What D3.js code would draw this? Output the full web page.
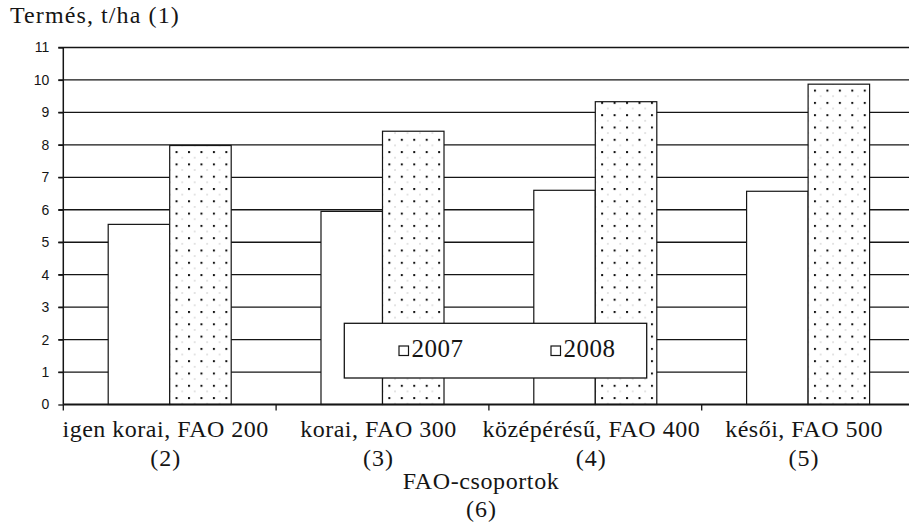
<!DOCTYPE html>
<html>
<head>
<meta charset="utf-8">
<script src="https://cdn.jsdelivr.net/npm/d3@7"></script>
<style>
  html, body { margin: 0; padding: 0; background: #fff; }
  svg { display: block; }
</style>
</head>
<body>
<svg id="chart" width="909" height="524"></svg>
<script>
// ---- data ----
const categories = ["igen korai, FAO 200", "korai, FAO 300", "középérésű, FAO 400", "késői, FAO 500"];
const categoryNotes = ["(2)", "(3)", "(4)", "(5)"];
const seriesNames = ["2007", "2008"];
const values2007 = [5.55, 5.95, 6.6, 6.57];
const values2008 = [7.98, 8.42, 9.33, 9.87];
const yTicks = [0, 1, 2, 3, 4, 5, 6, 7, 8, 9, 10, 11];
const yTitle = "Termés, t/ha (1)";
const xTitle = "FAO-csoportok";
const xTitleNote = "(6)";

// ---- layout ----
const svg = d3.select("#chart");
const mLeft = 63.3, mRight = 914.5, mTop = 47.5, mBottom = 404.5;
const serif = "'Liberation Serif', 'Times New Roman', serif";
const ink = "#151515";

const x = d3.scaleBand().domain(categories).range([mLeft, mRight]).padding(0);
const xs = d3.scaleBand().domain(seriesNames).range([0, x.bandwidth()]).paddingInner(0).paddingOuter(0.73);
const y = d3.scaleLinear().domain([0, 11]).range([mBottom, mTop]);

// dot pattern
const defs = svg.append("defs");
const pat = defs.append("pattern")
  .attr("id", "dots")
  .attr("patternUnits", "userSpaceOnUse")
  .attr("width", 12.45).attr("height", 12.3)
  .attr("x", 174.5).attr("y", 3.5);
pat.append("rect").attr("width", 12.45).attr("height", 12.3).attr("fill", "#fff");
pat.append("rect").attr("x", 0).attr("y", 0).attr("width", 2).attr("height", 2).attr("fill", "#111");
pat.append("rect").attr("x", 6.2).attr("y", 6.1).attr("width", 1).attr("height", 1).attr("fill", "#999");

// gridlines
svg.append("g").selectAll("line").data(yTicks.filter(d => d > 0)).join("line")
  .attr("x1", mLeft - 5).attr("x2", 909)
  .attr("y1", d => y(d)).attr("y2", d => y(d))
  .attr("stroke", ink).attr("stroke-width", 1.3);

// y axis
const yAxis = d3.axisLeft(y).tickValues(yTicks).tickSize(5).tickPadding(9).tickFormat(d3.format("d"));
const gy = svg.append("g").attr("transform", `translate(${mLeft},0)`).call(yAxis);
gy.select(".domain").remove();
gy.selectAll(".tick line").attr("stroke", ink).attr("stroke-width", 1.3);
gy.selectAll(".tick text").attr("font-family", "'Liberation Sans', Arial, sans-serif")
  .attr("font-size", 14).attr("fill", ink);
svg.append("line").attr("x1", mLeft).attr("x2", mLeft).attr("y1", mTop).attr("y2", mBottom)
  .attr("stroke", ink).attr("stroke-width", 1.5);

// bars
const rows = categories.map((c, i) => ({ c, v: [values2007[i], values2008[i]] }));
const groups = svg.append("g").selectAll("g").data(rows).join("g")
  .attr("transform", d => `translate(${x(d.c)},0)`);
groups.selectAll("rect").data(d => seriesNames.map((s, j) => ({ s, v: d.v[j] }))).join("rect")
  .attr("x", d => xs(d.s))
  .attr("y", d => y(d.v))
  .attr("width", xs.bandwidth())
  .attr("height", d => y(0) - y(d.v))
  .attr("fill", d => d.s === "2008" ? "url(#dots)" : "#fff")
  .attr("stroke", ink).attr("stroke-width", 1.2);

// x axis
const boundaries = [mLeft].concat(categories.map(c => x(c) + x.bandwidth()));
svg.append("g").selectAll("line").data(boundaries).join("line")
  .attr("x1", d => d).attr("x2", d => d).attr("y1", mBottom).attr("y2", mBottom + 6)
  .attr("stroke", ink).attr("stroke-width", 1.3);
svg.append("line").attr("x1", mLeft).attr("x2", 909).attr("y1", mBottom).attr("y2", mBottom)
  .attr("stroke", ink).attr("stroke-width", 2);

// category labels
const lab = svg.append("g").attr("font-family", serif).attr("font-size", 24).attr("fill", ink)
  .attr("text-anchor", "middle");
lab.selectAll("text.l1").data(categories).join("text").attr("class", "l1")
  .attr("x", d => x(d) + x.bandwidth() / 2 - 4).attr("y", 437)
  .attr("letter-spacing", 0.5)
  .text(d => d);
lab.selectAll("text.l2").data(categoryNotes).join("text").attr("class", "l2")
  .attr("x", (d, i) => x(categories[i]) + x.bandwidth() / 2 - 4).attr("y", 466)
  .attr("letter-spacing", 1)
  .text(d => d);
lab.append("text").attr("x", 481).attr("y", 489).attr("letter-spacing", 0.6).text(xTitle);
lab.append("text").attr("x", 481.5).attr("y", 517).attr("letter-spacing", 1).text(xTitleNote);

// y title
svg.append("text").attr("x", 10).attr("y", 23).attr("font-family", serif).attr("font-size", 24)
  .attr("fill", ink).attr("letter-spacing", 1.1).text(yTitle);

// legend
const lg = svg.append("g");
lg.append("rect").attr("x", 344.3).attr("y", 323.3).attr("width", 302.4).attr("height", 54.7)
  .attr("fill", "#fff").attr("stroke", ink).attr("stroke-width", 1.3);
const legendX = [399, 551];
seriesNames.forEach((s, i) => {
  lg.append("rect").attr("x", legendX[i]).attr("y", 346).attr("width", 9.5).attr("height", 9.5)
    .attr("fill", "#fff").attr("stroke", ink).attr("stroke-width", 1.2);
  lg.append("text").attr("x", legendX[i] + 12.5).attr("y", 357).attr("font-family", serif)
    .attr("font-size", 25).attr("letter-spacing", 0.5).attr("fill", ink).text(s);
});
</script>
</body>
</html>
